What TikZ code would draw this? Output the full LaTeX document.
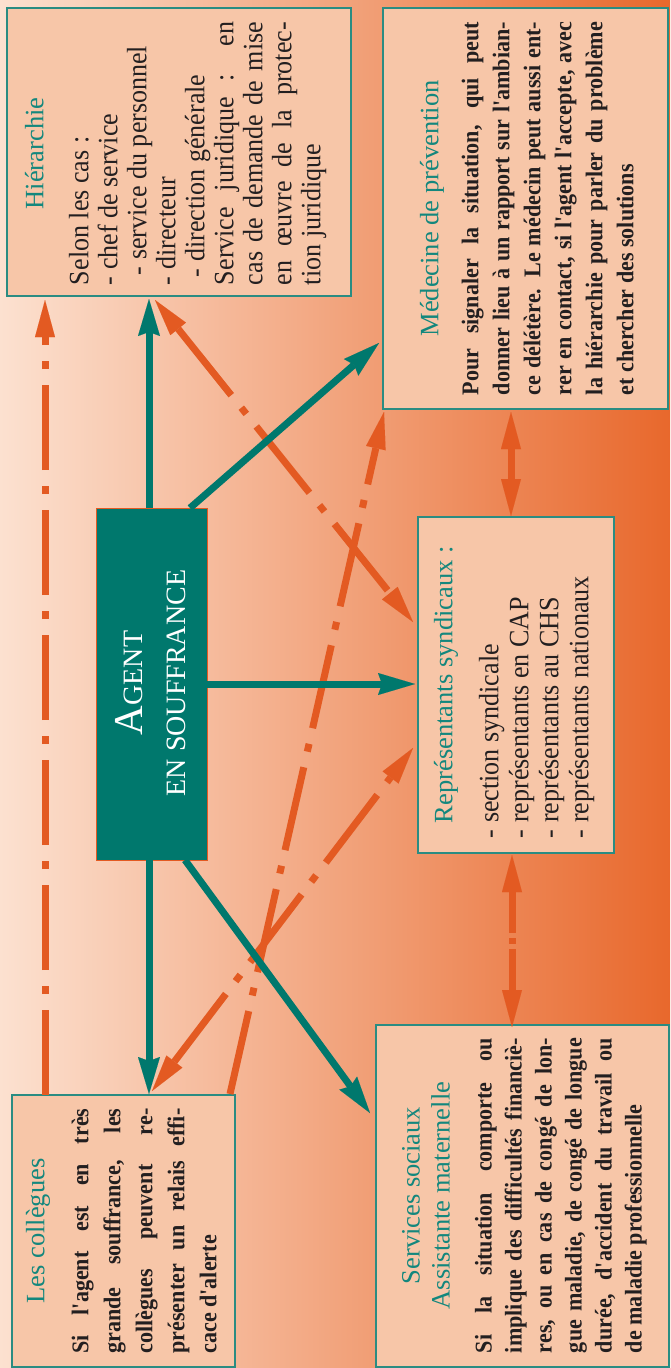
\documentclass[tikz,border=0pt]{standalone}
\usepackage{fontspec}
\setmainfont{Liberation Serif}
\newfontfamily\condfont{Liberation Serif}[FakeStretch=0.92]
\newfontfamily\regfont{Liberation Serif}[FakeStretch=0.93]
\usetikzlibrary{arrows.meta,calc}
\definecolor{bgL}{HTML}{FCE1D0}
\definecolor{bgM}{HTML}{F2AD86}
\definecolor{bgR}{HTML}{E8682C}
\definecolor{boxfill}{HTML}{F7C6A8}
\definecolor{tealc}{HTML}{00786D}
\definecolor{titlec}{HTML}{13877D}
\definecolor{framec}{HTML}{2A8C82}
\definecolor{orangec}{HTML}{E35A22}
\definecolor{bodyc}{HTML}{231F20}
\tikzset{
  panel/.style={draw=framec, line width=1.3pt, fill=boxfill, inner sep=0pt, outer sep=0pt},
  agentbox/.style={draw=orangec, line width=1pt, fill=tealc, inner sep=0pt, outer sep=0pt},
  tealarrow/.style={draw=tealc, line width=7pt, -{Stealth[length=37pt,width=22pt,inset=4pt,line width=0.01pt]}},
  oline/.style={draw=orangec, line width=7pt, dash pattern=on 85pt off 16pt on 8pt off 16pt},
  oline2/.style={draw=orangec, line width=7pt, dash pattern=on 41pt off 5pt on 6pt off 5pt on 200pt off 1pt},
  ohead/.style={-{Triangle[length=37pt,width=20pt,line width=0.01pt]}},
  oboth/.style={{Triangle[length=37pt,width=20pt,line width=0.01pt]}-{Triangle[length=37pt,width=20pt,line width=0.01pt]}},
  txt/.style={rotate=90, anchor=north, inner sep=0pt, outer sep=0pt, text=bodyc},
}
\begin{document}
\begin{tikzpicture}[x=1pt,y=-1pt]
\useasboundingbox (0,0) rectangle (670,1368);
\shade[left color=bgL, middle color=bgM, right color=bgR] (0,0) rectangle (670,1368);

% boxes
\node[panel, minimum width=344pt, minimum height=288pt] (hier) at (179,152) {};
\node[panel, minimum width=285pt, minimum height=401pt] (med) at (525.5,208.5) {};
\node[panel, minimum width=196pt, minimum height=336pt] (rep) at (516,685) {};
\node[agentbox, minimum width=111pt, minimum height=352pt] (agent) at (151.5,684) {};
\node[panel, minimum width=223pt, minimum height=272pt] (coll) at (123.5,1231) {};
\node[panel, minimum width=293pt, minimum height=342pt] (serv) at (522.5,1196) {};

% connection points
\coordinate (aN) at ($(agent.north west)+(53,0)$);
\coordinate (aS) at ($(agent.south west)+(53,0)$);
\coordinate (aNE) at ($(agent.north east)+(-17,0)$);
\coordinate (aSE) at ($(agent.south east)+(-22,0)$);
\coordinate (medL) at ($(med.south west)+(-4,-66)$);
\coordinate (servL) at ($(serv.north west)+(-6,88)$);
\coordinate (cA) at ($(coll.north west)+(33,0)$);

% orange dash-dot connectors
\draw[oline, ohead] (cA) -- ($(cA |- hier.south)+(0,4)$);
\draw[oline, oboth] ($(hier.south west)+(148,4)$) -- ($(rep.north west)+(-5,105)$);
\draw[oline, ohead] ($(coll.north east)+(-5,-1)$) -- ($(med.south west)+(1,3)$);
\draw[oline, oboth] ($(coll.north west)+(140,-4)$) -- ($(rep.south west)+(-5,-105)$);
\draw[oline, oboth] ($(med.south west)+(128,3)$) -- ($(rep.north west)+(93,-1)$);
\draw[oline2, oboth] ($(rep.south west)+(94,2)$) -- ($(serv.north west)+(136,2)$);

% teal connectors
\draw[tealarrow] (aN) -- ($(aN |- hier.south)+(0,3)$);
\draw[tealarrow] (aNE) -- (medL);
\draw[tealarrow] (agent.east) -- ($(agent.east -| rep.west)+(-3,0)$);
\draw[tealarrow] (aS) -- ($(aS |- coll.north)+(0,-1)$);
\draw[tealarrow] (aSE) -- (servL);

% texts
\node[txt] (hiert) at (25,153.5) {\parbox{263pt}{\regfont\fontsize{28}{29}\selectfont\tolerance=10000\hbadness=10000
\makebox[\linewidth]{\rmfamily\fontsize{26.5}{29}\selectfont\color{titlec}Hiérarchie}\par
\vspace{16pt}
Selon les cas~:\newline
- chef de service\newline
\hspace*{10pt}- service du personnel\newline
- directeur\newline
\hspace*{8pt}- direction générale\newline
Service juridique~: en\linebreak cas de demande de mise\linebreak en œuvre de la protec-\linebreak tion juridique}};

\node[txt] (medt) at (420,208.5) {\parbox{373pt}{\fontsize{26.5}{31}\selectfont\tolerance=10000\hbadness=10000
\makebox[\linewidth]{\color{titlec}Médecine de prévention}\par
\vspace{9pt}
{\condfont\bfseries\fontsize{24}{31}\selectfont Pour signaler la situation, qui peut\linebreak donner lieu à un rapport sur l'ambian-\linebreak ce délétère. Le médecin peut aussi ent-\linebreak rer en contact, si l'agent l'accepte, avec\linebreak la hiérarchie pour parler du problème\linebreak et chercher des solutions\par}}};

\node[txt] (rept) at (434,688) {\parbox{300pt}{\regfont\fontsize{28}{30}\selectfont\raggedright
\hspace*{15pt}{\rmfamily\fontsize{26.5}{30}\selectfont\color{titlec}Représentants syndicaux~:}\par
\vspace{16pt}
- section syndicale\\
- représentants en CAP\\
- représentants au CHS\\
- représentants nationaux}};

\node[txt, text=white] (agentt) at (115,683) {\parbox{240pt}{\centering\fontsize{28}{43}\selectfont
{\fontsize{41}{43}\selectfont A}GENT\\
EN SOUFFRANCE}};

\node[txt] (collt) at (26,1231) {\parbox{245pt}{\fontsize{26.5}{32}\selectfont\tolerance=10000\hbadness=10000
\makebox[\linewidth]{\color{titlec}Les collègues}\par
\vspace{12pt}
{\condfont\bfseries\fontsize{24}{32}\selectfont Si l'agent est en très\linebreak grande souffrance, les\linebreak collègues peuvent re-\linebreak présenter un relais effi-\linebreak cace d'alerte\par}}};

\node[txt] (servt) at (402,1195.5) {\parbox{315pt}{\fontsize{26.5}{30}\selectfont\tolerance=10000\hbadness=10000
\makebox[\linewidth]{\color{titlec}Services sociaux}\par
\makebox[\linewidth]{\color{titlec}Assistante maternelle}\par
\vspace{12pt}
{\condfont\bfseries\fontsize{24}{30}\selectfont Si la situation comporte ou\linebreak implique des difficultés financiè-\linebreak res, ou en cas de congé de lon-\linebreak gue maladie, de congé de longue\linebreak durée, d'accident du travail ou\linebreak de maladie professionnelle\par}}};
\end{tikzpicture}
\end{document}
